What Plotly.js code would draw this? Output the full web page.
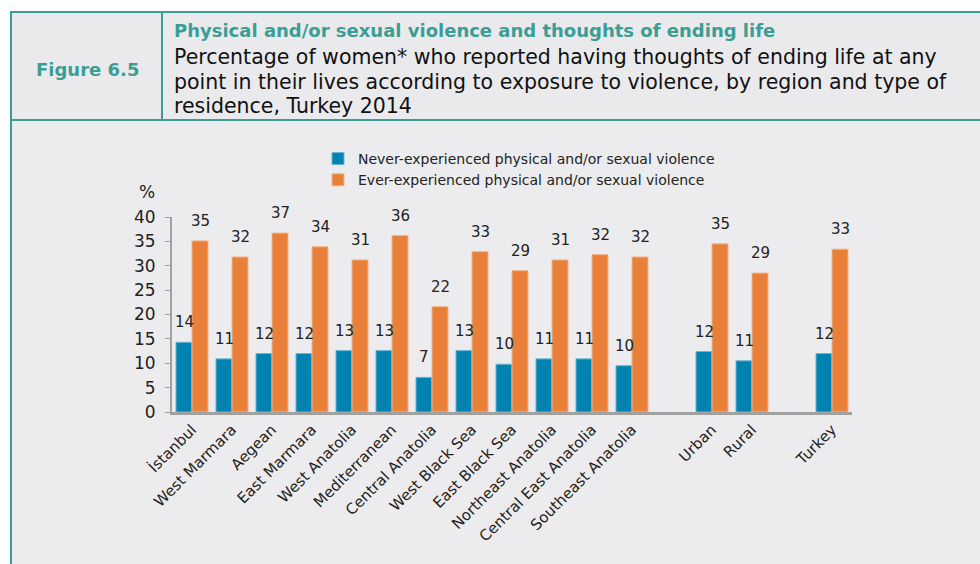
<!DOCTYPE html>
<html>
<head>
<meta charset="utf-8">
<script src="https://cdn.plot.ly/plotly-3.0.1.min.js"></script>
<style>html,body{margin:0;padding:0;background:#fff;}#chart{width:980px;height:564px;}</style>
</head>
<body>
<div id="chart"></div>
<script>
// ---- data ----
const regions = ["İstanbul","West Marmara","Aegean","East Marmara","West Anatolia","Mediterranean","Central Anatolia","West Black Sea","East Black Sea","Northeast Anatolia","Central East Anatolia","Southeast Anatolia"];
const residence = ["Urban","Rural"];
const total = ["Turkey"];

const neverRegions = [14.3,10.9,12.0,12.0,12.6,12.6,7.1,12.6,9.8,10.9,10.9,9.5];
const everRegions  = [35.1,31.8,36.7,33.9,31.2,36.2,21.6,32.9,29.0,31.2,32.3,31.8];
const neverResidence = [12.4,10.5];
const everResidence  = [34.5,28.5];
const neverTotal = [12.0];
const everTotal  = [33.4];

const neverName = "Never-experienced physical and/or sexual violence";
const everName  = "Ever-experienced physical and/or sexual violence";

const figLabel = "Figure 6.5";
const titleText = "Physical and/or sexual violence and thoughts of ending life";
const subtitleLines = [
  "Percentage of women* who reported having thoughts of ending life at any",
  "point in their lives according to exposure to violence, by region and type of",
  "residence, Turkey 2014"
];

// ---- build positions with gaps between groups ----
const groups = [
  {cats: regions, never: neverRegions, ever: everRegions},
  {cats: residence, never: neverResidence, ever: everResidence},
  {cats: total, never: neverTotal, ever: everTotal}
];
const xs = [], labels = [], nv = [], ev = [];
let pos = 0;
groups.forEach((g) => {
  g.cats.forEach((c, i) => {
    xs.push(pos); labels.push(c); nv.push(g.never[i]); ev.push(g.ever[i]);
    pos++;
  });
  pos++; // gap slot
});

const blue = "#0083B0", orange = "#E8803A";
const font = "DejaVu Sans, Verdana, sans-serif";

const traces = [
  {type:"bar", x: xs, y: nv, name: neverName, marker:{color: blue, line:{color:"#6BB6D2", width:1}}, hoverinfo:"y"},
  {type:"bar", x: xs, y: ev, name: everName, marker:{color: orange, line:{color:"#F2B48E", width:1}}, hoverinfo:"y"}
];

// pixel -> paper helpers (plot area x 172..852, y 217..412)
const L = 172, R = 852, T = 217, B = 412;
const px = v => (v - L) / (R - L);
const py = v => (B - v) / (B - T);

const teal = "#3A9E95";
const ann = [];
xs.forEach((x, i) => {
  ann.push({x: x - 0.2, y: nv[i], text: String(Math.round(nv[i])), showarrow:false, yshift: 20, font:{family: font, size: 15, color:"#222"}});
  ann.push({x: x + 0.2, y: ev[i], text: String(Math.round(ev[i])), showarrow:false, yshift: 20, font:{family: font, size: 15, color:"#222"}});
});
ann.push({xref:"paper", yref:"paper", x: px(147), y: py(192), xanchor:"center", yanchor:"middle", text:"%", showarrow:false, font:{family: font, size: 17, color:"#222"}});
ann.push({xref:"paper", yref:"paper", x: px(87), y: py(69), xanchor:"center", yanchor:"middle", text:"<b>" + figLabel + "</b>", showarrow:false, font:{family: font, size: 18, color: teal}});
ann.push({xref:"paper", yref:"paper", x: px(172), y: py(30), xanchor:"left", yanchor:"middle", text:"<b>" + titleText + "</b>", showarrow:false, font:{family: font, size: 18, color: teal}});
const lineY = [57, 82, 106];
subtitleLines.forEach((t, i) => {
  ann.push({xref:"paper", yref:"paper", x: px(172), y: py(lineY[i]), xanchor:"left", yanchor:"middle", text: t, showarrow:false, font:{family: font, size: 20.5, color:"#111"}});
});

const shapes = [
  {type:"rect", xref:"paper", yref:"paper", x0: px(11), x1: px(990), y0: py(12), y1: py(580), fillcolor:"#ECECEE", line:{color: teal, width: 2}, layer:"below"},
  {type:"rect", xref:"paper", yref:"paper", x0: px(11), x1: px(990), y0: py(12), y1: py(120), fillcolor:"#EAEAEC", line:{color: teal, width: 2}, layer:"below"},
  {type:"line", xref:"paper", yref:"paper", x0: px(162), x1: px(162), y0: py(12), y1: py(120), line:{color: teal, width: 2}, layer:"below"}
];

const layout = {
  width: 980, height: 564,
  margin: {l: L, r: 980 - R, t: T, b: 564 - B, pad: 0},
  paper_bgcolor: "#ffffff",
  plot_bgcolor: "rgba(0,0,0,0)",
  barmode: "group",
  bargap: 0.2,
  bargroupgap: 0,
  showlegend: true,
  legend: {x: px(318), y: py(143), xanchor:"left", yanchor:"top", orientation:"v", bgcolor:"rgba(0,0,0,0)",
    font:{family: font, size: 14, color:"#222"}, itemwidth: 30, tracegroupgap: 0},
  xaxis: {range: [-0.5, pos - 1.5], tickmode:"array", tickvals: xs, ticktext: labels, tickangle: -45,
    showgrid:false, zeroline:false, showline:true, linecolor:"#A0A0A0", linewidth: 3, ticks:"",
    tickfont:{family: font, size: 15, color:"#222"}, fixedrange:true},
  yaxis: {range: [0, 40], dtick: 5, showgrid:false, zeroline:false, showline:true, linecolor:"#A0A0A0", linewidth: 2,
    ticks:"outside", ticklen: 5, tickcolor:"#A0A0A0", ticklabelstandoff: 6, tickfont:{family: font, size: 17, color:"#222"}, fixedrange:true},
  annotations: ann,
  shapes: shapes
};

Plotly.newPlot("chart", traces, layout, {displayModeBar:false, staticPlot:true});
</script>
</body>
</html>
